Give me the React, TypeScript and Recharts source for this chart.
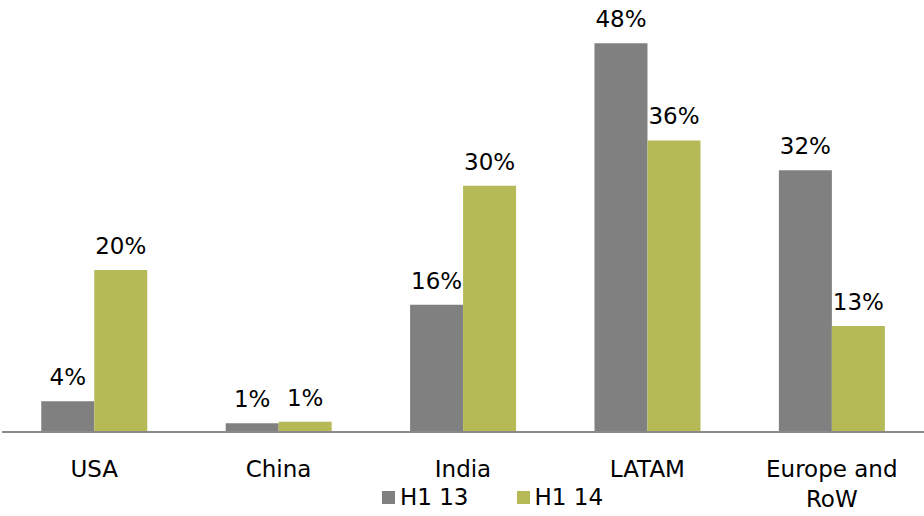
import React from 'react';
import { BarChart, Bar, XAxis, YAxis, Legend, LabelList } from 'recharts';

const categories = ['USA', 'China', 'India', 'LATAM', 'Europe and\nRoW'];
const h113 = [3.8, 1.07, 15.7, 48, 32.3];
const h114 = [20, 1.27, 30.4, 36, 13.1];
const seriesNames = ['H1 13', 'H1 14'];

const GRAY = '#808080';
const GREEN = '#B5B956';
const FONT = '"DejaVu Sans", Verdana, sans-serif';

const data = categories.map((c, i) => ({ name: c, a: h113[i], b: h114[i] }));

const fmt = (v: any) => `${Math.round(Number(v))}%`;

function CategoryTick(props: any) {
    const { x, y, payload } = props;
    const lines = String(payload.value).split('\n');
    return (
        <text x={x} y={y} textAnchor="middle" fontSize={23} fontFamily={FONT} fill="#000">
            {lines.map((l, i) => (
                <tspan key={i} x={x} dy={i === 0 ? 45 : 30}>{l}</tspan>
            ))}
        </text>
    );
}

function LegendBox() {
    const cols = [GRAY, GREEN];
    return (
        <div style={{ display: 'flex', fontFamily: FONT, fontSize: 23, color: '#000', lineHeight: '28px' }}>
            {seriesNames.map((n, i) => (
                <div key={n} style={{ display: 'flex', alignItems: 'center', marginRight: i === 0 ? 48 : 0 }}>
                    <span style={{ width: 13, height: 13, background: cols[i], display: 'inline-block', marginRight: 5 }} />
                    <span>{n}</span>
                </div>
            ))}
        </div>
    );
}

export default function App() {
    return (
        <div style={{ position: 'absolute', left: 0, top: 0, width: 924, height: 516, background: '#fff' }}>
            <BarChart
                width={924}
                height={516}
                data={data}
                margin={{ top: 27, right: 0, bottom: 0, left: 2 }}
                barCategoryGap="21.3%"
                barGap={0}
            >
                <XAxis
                    dataKey="name"
                    axisLine={{ stroke: '#898989', strokeWidth: 2 }}
                    tickLine={false}
                    tickSize={0}
                    tickMargin={0}
                    height={84}
                    interval={0}
                    tick={<CategoryTick />}
                />
                <YAxis hide domain={[0, 50]} />
                <Legend
                    layout="horizontal"
                    verticalAlign="middle"
                    align="center"
                    content={<LegendBox />}
                    wrapperStyle={{ top: 483, left: 382, width: 'auto' }}
                />
                <Bar dataKey="a" name={seriesNames[0]} fill={GRAY} isAnimationActive={false}>
                    <LabelList dataKey="a" position="top" offset={16} formatter={fmt}
                        style={{ fontSize: 23, fontFamily: FONT, fill: '#000' }} />
                </Bar>
                <Bar dataKey="b" name={seriesNames[1]} fill={GREEN} isAnimationActive={false}>
                    <LabelList dataKey="b" position="top" offset={16} formatter={fmt}
                        style={{ fontSize: 23, fontFamily: FONT, fill: '#000' }} />
                </Bar>
            </BarChart>
        </div>
    );
}
